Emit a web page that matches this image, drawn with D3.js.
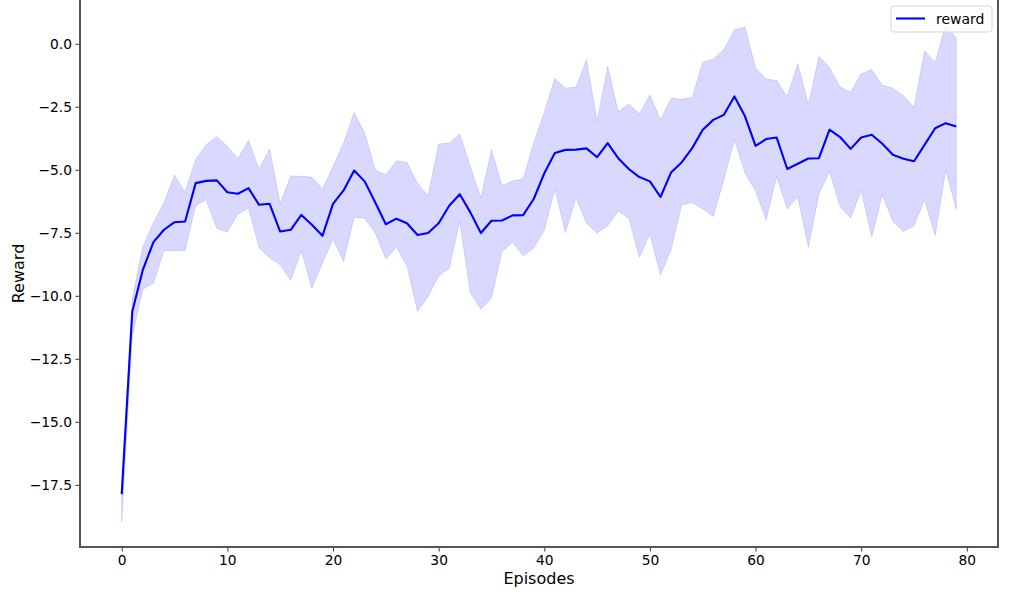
<!DOCTYPE html>
<html>
<head>
<meta charset="utf-8">
<script src="https://cdn.jsdelivr.net/npm/d3@7"></script>
<style>
  html, body { margin: 0; padding: 0; background: #fff; }
  svg { display: block; font-family: "DejaVu Sans", sans-serif; }
</style>
</head>
<body>
<svg id="chart" width="1013" height="600"></svg>
<script>
const episodes = d3.range(80);
const meanReward = [
  -17.87, -10.62, -8.97, -7.87, -7.38, -7.08, -7.05, -5.53, -5.44, -5.42,
  -5.89, -5.95, -5.73, -6.39, -6.35, -7.45, -7.38, -6.79, -7.18, -7.62,
  -6.35, -5.82, -5.03, -5.46, -6.30, -7.16, -6.94, -7.12, -7.59, -7.51,
  -7.12, -6.43, -5.97, -6.69, -7.51, -7.02, -7.01, -6.81, -6.80, -6.16,
  -5.14, -4.33, -4.21, -4.20, -4.15, -4.50, -3.94, -4.54, -4.97, -5.29,
  -5.46, -6.08, -5.11, -4.71, -4.14, -3.41, -3.02, -2.82, -2.09, -2.88,
  -4.05, -3.78, -3.72, -4.97, -4.76, -4.55, -4.54, -3.41, -3.70, -4.17,
  -3.72, -3.61, -3.97, -4.40, -4.56, -4.66, -4.01, -3.35, -3.15, -3.28
];
const upperReward = [
  -17.70, -10.10, -8.05, -7.10, -6.30, -5.21, -5.90, -4.58, -4.01, -3.68,
  -4.07, -4.56, -3.84, -4.97, -4.18, -6.35, -5.24, -5.26, -5.29, -5.77,
  -4.87, -3.94, -2.73, -3.54, -5.00, -5.20, -4.64, -4.70, -5.53, -6.03,
  -3.98, -3.94, -3.58, -4.87, -6.12, -4.21, -5.63, -5.44, -5.36, -3.94,
  -2.72, -1.38, -1.76, -1.72, -0.63, -3.08, -0.90, -2.69, -2.39, -2.79,
  -2.02, -3.02, -2.16, -2.20, -2.13, -0.74, -0.61, -0.24, 0.56, 0.66,
  -0.96, -1.40, -1.46, -2.09, -0.79, -2.42, -0.50, -0.94, -1.72, -1.92,
  -1.19, -1.03, -1.65, -1.76, -2.06, -2.51, -0.28, -0.73, 0.75, 0.23
];
const lowerReward = [
  -18.98, -11.60, -9.74, -9.50, -8.20, -8.20, -8.20, -6.42, -6.19, -7.33,
  -7.47, -6.75, -6.52, -8.08, -8.50, -8.77, -9.39, -8.20, -9.70, -8.70,
  -7.75, -8.64, -6.88, -6.92, -7.51, -8.54, -8.07, -8.81, -10.62, -10.03,
  -9.21, -8.90, -7.05, -9.89, -10.53, -10.09, -8.24, -7.88, -8.41, -8.11,
  -7.40, -5.77, -7.49, -6.12, -7.12, -7.51, -7.22, -6.65, -6.92, -8.47,
  -7.55, -9.17, -8.17, -6.39, -6.30, -6.56, -6.85, -5.40, -3.81, -5.13,
  -5.84, -7.00, -5.26, -6.56, -6.08, -8.07, -5.96, -5.07, -6.46, -6.92,
  -5.82, -7.67, -5.99, -7.05, -7.45, -7.22, -6.19, -7.62, -5.00, -6.56
];
const xTicks = [0, 10, 20, 30, 40, 50, 60, 70, 80];
const yTicks = [0, -2.5, -5, -7.5, -10, -12.5, -15, -17.5];
const xLabel = "Episodes";
const yLabel = "Reward";
const legendLabel = "reward";

const svg = d3.select("#chart");
const L = 80, R = 998, T = 0, B = 547;

const yMin = d3.min(lowerReward), yMax = d3.max(upperReward);
const yPad = (yMax - yMin) * 0.05;
const xPad = 79 * 0.05;
const x = d3.scaleLinear().domain([0 - xPad, 79 + xPad]).range([L, R]);
const y = d3.scaleLinear().domain([yMin - yPad, yMax + yPad]).range([B, T]);

const data = episodes.map((e, i) => ({ e, m: meanReward[i], u: upperReward[i], l: lowerReward[i] }));

// band
svg.append("path")
  .datum(data)
  .attr("d", d3.area().x(d => x(d.e)).y0(d => y(d.l)).y1(d => y(d.u)))
  .attr("fill", "rgba(0,0,255,0.15)")
  .attr("stroke", "rgba(0,0,255,0.12)")
  .attr("stroke-width", 1);

// mean line
svg.append("path")
  .datum(data)
  .attr("d", d3.line().x(d => x(d.e)).y(d => y(d.m)))
  .attr("fill", "none")
  .attr("stroke", "#0000ff")
  .attr("stroke-width", 2.1)
  .attr("stroke-linejoin", "round");

// axes
const fmtY = v => (v < 0 ? "\u2212" : "") + Math.abs(v).toFixed(1);
const xAxis = svg.append("g").attr("transform", `translate(0,${B})`)
  .call(d3.axisBottom(x).tickValues(xTicks).tickFormat(d3.format("d")).tickSize(4.5).tickPadding(3.5));
const yAxis = svg.append("g").attr("transform", `translate(${L},0)`)
  .call(d3.axisLeft(y).tickValues(yTicks).tickFormat(fmtY).tickSize(4.5).tickPadding(3.5));
[xAxis, yAxis].forEach(g => {
  g.select(".domain").remove();
  g.selectAll(".tick line").attr("stroke", "#333").attr("stroke-width", 1);
  g.selectAll(".tick text").attr("fill", "#000").style("font-size", "13.8px")
    .style("font-family", "'DejaVu Sans', sans-serif");
});

// spines (top spine sits just above the visible area)
svg.append("rect").attr("x", L).attr("y", T - 3).attr("width", R - L).attr("height", B - T + 3)
  .attr("fill", "none").attr("stroke", "#555").attr("stroke-width", 1.1).attr("shape-rendering", "crispEdges");

// axis labels
svg.append("text").attr("x", (L + R) / 2).attr("y", 584).attr("text-anchor", "middle")
  .style("font-size", "16px").text(xLabel);
svg.append("text").attr("transform", `translate(24,${(T + B) / 2}) rotate(-90)`).attr("text-anchor", "middle")
  .style("font-size", "16px").text(yLabel);

// legend
const lg = svg.append("g");
lg.append("rect").attr("x", 891).attr("y", 6).attr("width", 101).attr("height", 26).attr("rx", 3)
  .attr("fill", "rgba(255,255,255,0.8)").attr("stroke", "#d6d6d6").attr("stroke-width", 1);
lg.append("line").attr("x1", 896).attr("x2", 925).attr("y1", 18.5).attr("y2", 18.5)
  .attr("stroke", "#0000ff").attr("stroke-width", 2.1);
lg.append("text").attr("x", 936).attr("y", 23.5).style("font-size", "14px").text(legendLabel);
</script>
</body>
</html>
